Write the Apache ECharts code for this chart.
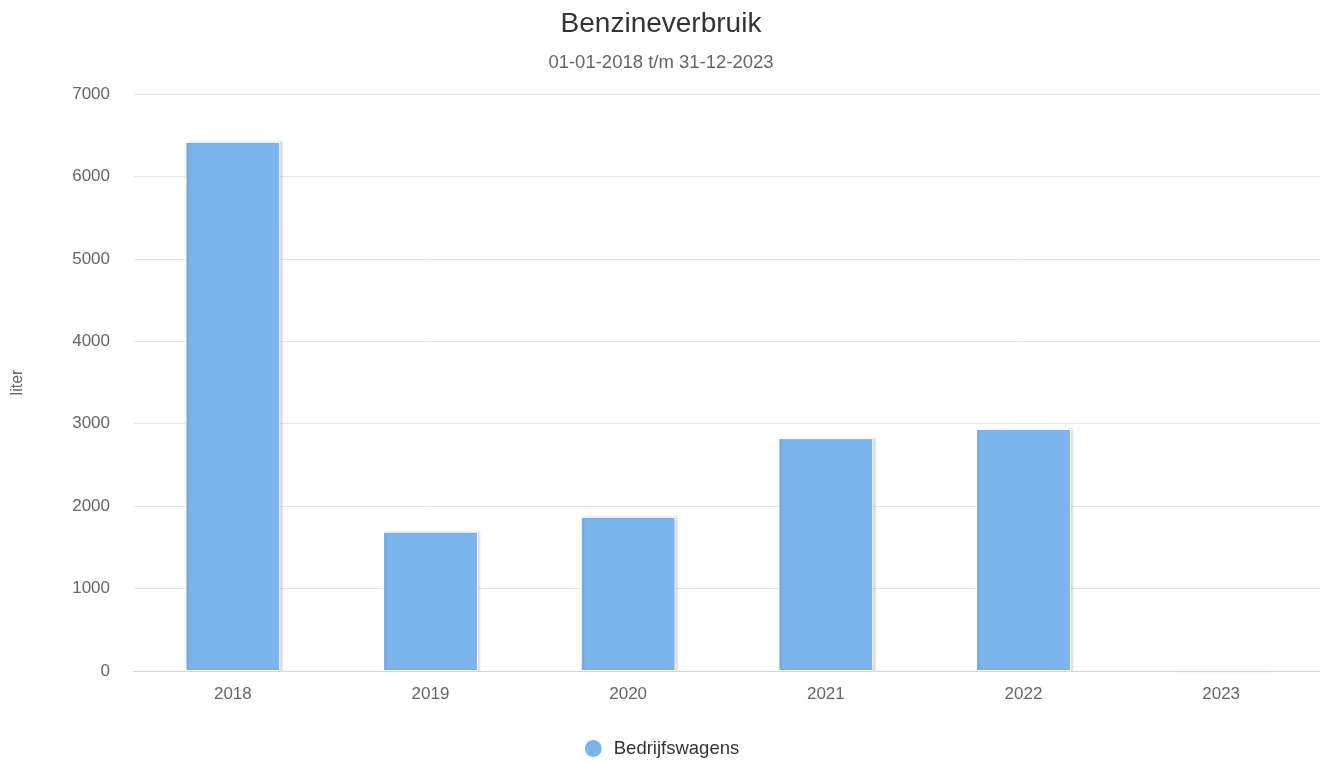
<!DOCTYPE html>
<html>
<head>
<meta charset="utf-8">
<script src="https://cdn.jsdelivr.net/npm/echarts@6/dist/echarts.min.js"></script>
<style>html,body{margin:0;padding:0;background:#fff}#c{width:1322px;height:762px}</style>
</head>
<body>
<div id="c"></div>
<script>
const categories = ['2018', '2019', '2020', '2021', '2022', '2023'];
const bedrijfswagens = [6420, 1690, 1870, 2825, 2935, 0];
const yTicks = [0, 1000, 2000, 3000, 4000, 5000, 6000, 7000];

const chart = echarts.init(document.getElementById('c'));
chart.setOption({
  animation: false,
  textStyle: { fontFamily: 'Liberation Sans, Arial, sans-serif' },
  title: [
    { text: 'Benzineverbruik', left: 'center', top: 5,
      textStyle: { fontSize: 28, fontWeight: 'normal', color: '#333333' } },
    { text: '01-01-2018 t/m 31-12-2023', left: 'center', top: 48,
      textStyle: { fontSize: 18.5, fontWeight: 'normal', color: '#666666' } }
  ],
  legend: {
    top: 733, left: 'center', icon: 'circle', itemWidth: 19, itemHeight: 19, itemGap: 20,
    textStyle: { fontSize: 18.5, color: '#333333', padding: [0, 0, 0, 6] },
    data: ['Bedrijfswagens']
  },
  grid: { left: 134, right: 2, top: 94, bottom: 91, containLabel: false },
  xAxis: {
    type: 'category', data: categories, z: 10,
    axisLine: { lineStyle: { color: '#ccd6eb', width: 1 } },
    axisTick: { show: false },
    axisLabel: { color: '#666666', fontSize: 17, margin: 15 }
  },
  yAxis: {
    type: 'value', min: yTicks[0], max: yTicks[yTicks.length - 1], interval: 1000,
    name: 'liter', nameLocation: 'middle', nameGap: 108, nameRotate: 90,
    nameTextStyle: { color: '#666666', fontSize: 16 },
    axisLine: { show: false }, axisTick: { show: false },
    axisLabel: { color: '#666666', fontSize: 17, margin: 24, formatter: v => String(v) },
    splitLine: { showMinLine: false, lineStyle: { color: '#e6e6e6', width: 1 } }
  },
  series: [{
    name: 'Bedrijfswagens', type: 'bar', data: bedrijfswagens, barWidth: '48%',
    itemStyle: {
      color: '#7cb5ec', borderColor: '#ffffff', borderWidth: 1,
      shadowColor: 'rgba(0,0,0,0.15)', shadowBlur: 2, shadowOffsetX: 2, shadowOffsetY: 0
    }
  }]
});
</script>
</body>
</html>
